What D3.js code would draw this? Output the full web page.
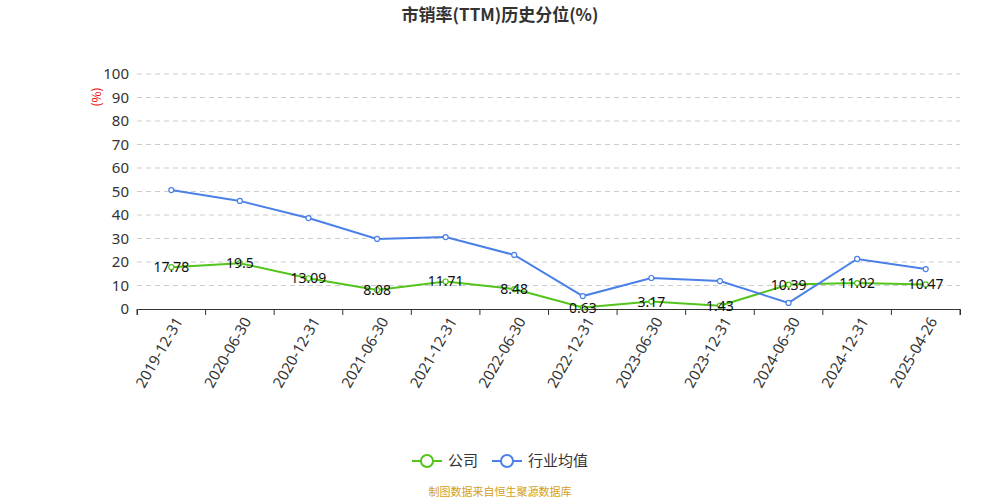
<!DOCTYPE html>
<html><head><meta charset="utf-8">
<script src="https://cdn.jsdelivr.net/npm/d3@7"></script>
<style>body{margin:0;background:#fff;font-family:"Noto Sans CJK SC","Noto Sans",sans-serif}</style>
</head><body><svg id="svg" width="1000" height="500"></svg>
<script>
const dates = ['2019-12-31','2020-06-30','2020-12-31','2021-06-30','2021-12-31','2022-06-30','2022-12-31','2023-06-30','2023-12-31','2024-06-30','2024-12-31','2025-04-26'];
const company = [17.78,19.5,13.09,8.08,11.71,8.48,0.63,3.17,1.43,10.39,11.02,10.47];
const industry = [50.6,46,38.7,29.8,30.6,23,5.5,13.2,11.9,2.6,21.3,17];
const yTicks = [0,10,20,30,40,50,60,70,80,90,100];

const svg = d3.select('#svg');
const x = d3.scaleBand().domain(dates).range([137,960]);
const y = d3.scaleLinear().domain([0,100]).range([309,74]);
const cx = d => x(d) + x.bandwidth()/2;

svg.append('text').attr('x',500).attr('y',21).attr('text-anchor','middle')
  .style('font-size',17).style('font-weight','bold').attr('fill','#333').text('市销率(TTM)历史分位(%)');

svg.selectAll('.grid').data(yTicks.slice(1)).enter().append('line')
  .attr('x1',137).attr('x2',960).attr('y1',y).attr('y2',y)
  .attr('stroke','#ccc').attr('stroke-dasharray','5,4');

const ya = svg.append('g').attr('transform','translate(137,0)')
  .call(d3.axisLeft(y).tickValues(yTicks).tickSize(0).tickPadding(8));
ya.select('.domain').remove();
ya.selectAll('text').style('font-size',15).attr('fill','#333').style('font-family','"Noto Sans",sans-serif');

svg.append('text').attr('transform','translate(101,97) rotate(-90)').attr('text-anchor','middle')
  .style('font-size',12).attr('fill','#e00').text('(%)');

const xa = svg.append('g').attr('transform','translate(0,309)')
  .call(d3.axisBottom(x).tickSizeOuter(0).tickSize(6));
xa.selectAll('.tick line').attr('transform',`translate(${-x.bandwidth()/2},0)`);
svg.append('line').attr('x1',960).attr('x2',960).attr('y1',309).attr('y2',315).attr('stroke','#333');
xa.selectAll('path,line').attr('stroke','#333');
xa.selectAll('text').style('font-size',15).attr('fill','#333').style('font-family','"Noto Sans",sans-serif')
  .attr('text-anchor','end').attr('dx','-0.3em').attr('dy','0.5em').attr('transform','rotate(-60)');

const line = d3.line().x((d,i)=>cx(dates[i])).y(d=>y(d));
function series(vals,color){
  svg.append('path').datum(vals).attr('d',line).attr('fill','none').attr('stroke',color).attr('stroke-width',2);
  svg.selectAll(null).data(vals).enter().append('circle')
    .attr('cx',(d,i)=>cx(dates[i])).attr('cy',d=>y(d)).attr('r',2.5)
    .attr('fill','#fff').attr('stroke',color).attr('stroke-width',1.2);
}
series(company,'#52c41a');
series(industry,'#4a80e8');

svg.selectAll('.lbl').data(company).enter().append('text')
  .attr('x',(d,i)=>cx(dates[i])).attr('y',d=>y(d)+5).attr('text-anchor','middle')
  .style('font-size',14).attr('fill','#111').style('font-family','"Noto Sans",sans-serif').text(d=>d);

const legend = [['公司','#52c41a',412],['行业均值','#4a80e8',492]];
legend.forEach(([t,c,lx])=>{
  svg.append('line').attr('x1',lx).attr('x2',lx+30).attr('y1',461).attr('y2',461).attr('stroke',c).attr('stroke-width',2);
  svg.append('circle').attr('cx',lx+15).attr('cy',461).attr('r',6).attr('fill','#fff').attr('stroke',c).attr('stroke-width',2);
  svg.append('text').attr('x',lx+36).attr('y',466).style('font-size',15).attr('fill','#333').text(t);
});

svg.append('text').attr('x',500).attr('y',496).attr('text-anchor','middle')
  .style('font-size',11).attr('fill','#d4a017').text('制图数据来自恒生聚源数据库');
</script></body></html>
